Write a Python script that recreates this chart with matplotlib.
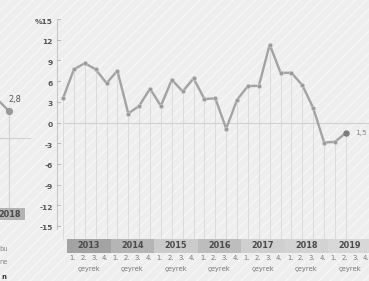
import matplotlib
matplotlib.use("Agg")
import matplotlib.pyplot as plt
from matplotlib.patches import Rectangle
from matplotlib.transforms import offset_copy

# veriler: 2012 4. çeyrek .. 2019 2. çeyrek, yıllık % büyüme
quarter_values = [3.5, 7.7, 8.6, 7.7, 5.7, 7.5, 1.3, 2.4, 4.9, 2.4, 6.2, 4.5, 6.4, 3.4,
                  3.5, -0.9, 3.3, 5.3, 5.3, 11.3, 7.2, 7.2, 5.4, 2.1, -2.9, -2.8, -1.5]
years = ["2013", "2014", "2015", "2016", "2017", "2018", "2019"]
year_colors = ["#a3a3a3", "#b5b5b5", "#cbcbcb", "#bdbdbd", "#cfcfcf", "#d3d3d3", "#d8d8d8"]
quarter_labels = ["1.", "2.", "3.", "4."]
y_ticks = [15, 12, 9, 6, 3, 0, -3, -6, -9, -12, -15]
last_label = "1,5"

# soldaki kesik grafik (yıllık)
left_years = [2017, 2018]
left_values = [7.5, 2.8]
left_label = "2,8"
side_texts = ["bu", "ne", "n"]

W, H = 369, 281
plt.rcParams['hatch.linewidth'] = 1.2
fig = plt.figure(figsize=(W / 100, H / 100), dpi=100)
fig.patch.set_facecolor("#efefef")
bg = Rectangle((0, 0), 1, 1, transform=fig.transFigure, facecolor="#eeeeee",
               edgecolor="#f5f5f5", linewidth=0, hatch="///", zorder=-10)
fig.patches.append(bg)

# ana grafik: piksel -> veri eşlemesi
x0, dx = 63, 10.88   # 1. noktanın x pikseli, çeyrek aralığı
y0, dy = 122.5, 6.9  # sıfır çizgisi pikseli, birim başına piksel
ax = fig.add_axes([0, 0, 1, 1])
ax.set_zorder(1)
ax.set_facecolor("none")
ax.set_xlim((0 - x0) / dx, (W - x0) / dx)
ax.set_ylim((y0 - H) / dy, y0 / dy)
ax.axis("off")

n = len(quarter_values)
xs = list(range(n))
box_top = (y0 - 239) / dy
box_bot = (y0 - 253) / dy

# dikey kılavuz çizgileri
ax.vlines(xs, box_top, quarter_values, color="#d8d8d8", lw=0.6, zorder=1)
# sıfır çizgisi
ax.plot([0, xs[-1] + 3], [0, 0], color="#d0d0d0", lw=0.8, zorder=1)
# y ekseni
ax_x = (57.5 - x0) / dx
ax.plot([ax_x, ax_x], [14.9, -15.4], color="#c8c8c8", lw=0.8, zorder=1)
lab_tr = offset_copy(ax.transData, fig=fig, x=0, y=-2.5, units="dots")
for v in y_ticks:
    ax.plot([ax_x, ax_x + 0.2], [v, v], color="#b8b8b8", lw=0.7, zorder=1)
    txt = "%" + str(v) if v == 15 else str(v)
    ax.text((53 - x0) / dx, v, txt, transform=lab_tr, ha="right", va="center",
            fontsize=5.4, color="#555555", fontweight="bold")

# çizgi
ax.plot(xs, quarter_values, color="#a3a3a3", lw=1.7, zorder=3, solid_joinstyle="round")
ax.plot(xs[:-1], quarter_values[:-1], "o", color="#999999", ms=3.0, mec="#cfcfcf",
        mew=0.4, zorder=4)
ax.plot(xs[-1], quarter_values[-1], "o", color="#7d7d7d", ms=3.6, zorder=4)
ax.text(xs[-1] + 0.9, quarter_values[-1], last_label, ha="left", va="center",
        fontsize=5.4, color="#888888")

# yıl kutuları ve çeyrek etiketleri
for k, (yr, c) in enumerate(zip(years, year_colors)):
    start = 4 * k + 0.37
    ax.add_patch(Rectangle((start, box_bot), 4, box_top - box_bot, facecolor=c,
                           edgecolor="none", zorder=2))
    ax.text(start + 2, (box_top + box_bot) / 2, yr, ha="center", va="center",
            fontsize=5.9, color="#4a4a4a", fontweight="bold", zorder=3)
    for q, ql in enumerate(quarter_labels):
        ax.text(start + 0.5 + q, (y0 - 257.5) / dy, ql, ha="center", va="center",
                fontsize=4.9, color="#777777")
    ax.text(start + 2, (y0 - 268.5) / dy, "çeyrek", ha="center", va="center",
            fontsize=4.9, color="#777777")

# soldaki kesik grafik
lx0, ldx = 9, 45      # 2018 pikseli, yıl aralığı
ly0, ldy = 138, 9.6
ax2 = fig.add_axes([0, 0, 1, 1])
ax2.set_zorder(2)
ax2.set_facecolor("none")
ax2.set_xlim(2018 - lx0 / ldx, 2018 + (W - lx0) / ldx)
ax2.set_ylim((ly0 - H) / ldy, ly0 / ldy)
ax2.axis("off")
lbox_top = (ly0 - 208) / ldy
lbox_bot = (ly0 - 220) / ldy
ax2.plot([2018, 2018], [left_values[-1], lbox_top], color="#d0d0d0", lw=0.8, zorder=1)
ax2.plot([2017.5, 2018 + 21 / ldx], [0, 0], color="#d0d0d0", lw=0.8, zorder=1)
ax2.plot(left_years, left_values, color="#a3a3a3", lw=1.7, zorder=3)
ax2.plot(left_years[-1], left_values[-1], "o", color="#999999", ms=4.2, zorder=4)
ax2.text(2018 + 5.5 / ldx, left_values[-1] + 12 / ldy, left_label, ha="center",
         va="center", fontsize=5.9, color="#555555")
ax2.add_patch(Rectangle((2018 - 16 / ldx, lbox_bot), 32 / ldx, lbox_top - lbox_bot,
                        facecolor="#b3b3b3", edgecolor="none", zorder=2))
ax2.text(2018 + 1 / ldx, (lbox_top + lbox_bot) / 2, str(left_years[-1]), ha="center",
         va="center", fontsize=5.9, color="#4a4a4a", fontweight="bold", zorder=3)
for i, (t, py) in enumerate(zip(side_texts, [249, 262, 277])):
    fig.text(8 / W if i < 2 else 6 / W, 1 - py / H, t, ha="right", va="center",
             fontsize=4.9, color="#333333" if i == 2 else "#888888",
             fontweight="bold" if i == 2 else "normal")

fig.savefig("out.png", dpi=100, facecolor=fig.get_facecolor())
